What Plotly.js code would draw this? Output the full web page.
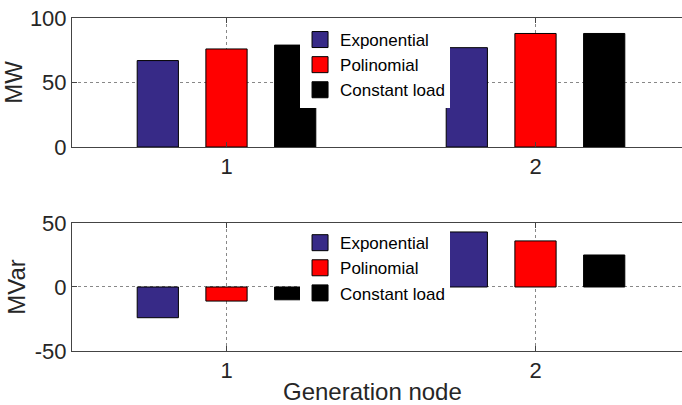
<!DOCTYPE html>
<html>
<head>
<meta charset="utf-8">
<script src="https://cdn.plot.ly/plotly-3.0.1.min.js"></script>
<style>
html,body{margin:0;padding:0;overflow:hidden;background:#fff;}
#chart{width:700px;height:405px;}
</style>
</head>
<body>
<div id="chart"></div>
<script>
// Data
var nodes = [1, 2];
var nodeLabels = ['1', '2'];
var seriesNames = ['Exponential', 'Polinomial', 'Constant load'];
var seriesColors = ['#372A87', '#FF0000', '#000000'];
var activePower = [
  [67, 77],   // Exponential
  [76, 88],   // Polinomial
  [79, 88]    // Constant load
];
var reactivePower = [
  [-24, 43],
  [-11, 36],
  [-10, 25]
];
var pTicks = [0, 50, 100];
var pTickLabels = ['0', '50', '100'];
var qTicks = [-50, 0, 50];
var qTickLabels = ['-50', '0', '50'];
var yTitles = ['MW', 'MVar'];
var xTitle = 'Generation node';

var traces = [];
for (var i = 0; i < seriesNames.length; i++) {
  traces.push({type: 'bar', x: nodes, y: activePower[i], name: seriesNames[i],
    marker: {color: seriesColors[i], line: {color: '#000', width: 1}},
    xaxis: 'x', yaxis: 'y', showlegend: false, hoverinfo: 'none'});
  traces.push({type: 'bar', x: nodes, y: reactivePower[i], name: seriesNames[i],
    marker: {color: seriesColors[i], line: {color: '#000', width: 1}},
    xaxis: 'x2', yaxis: 'y2', showlegend: false, hoverinfo: 'none'});
}
// legend entries
for (var j = 0; j < seriesNames.length; j++) {
  traces.push({type: 'scatter', mode: 'markers', x: [null], y: [null], name: seriesNames[j],
    marker: {symbol: 'square', size: 16, color: seriesColors[j], line: {color: '#000', width: 1}},
    xaxis: 'x', yaxis: 'y', legend: 'legend'});
  traces.push({type: 'scatter', mode: 'markers', x: [null], y: [null], name: seriesNames[j],
    marker: {symbol: 'square', size: 16, color: seriesColors[j], line: {color: '#000', width: 1}},
    xaxis: 'x2', yaxis: 'y2', legend: 'legend2'});
}

var fam = 'Liberation Sans, Arial, sans-serif';
var tickFont = {family: fam, size: 22, color: '#262626'};
var titleFont = {family: fam, size: 24, color: '#262626'};
var legFont = {family: fam, size: 17, color: '#000'};
var axisCommon = {
  showline: true, linecolor: '#444', linewidth: 1, mirror: 'ticks',
  ticks: 'inside', ticklen: 5, tickcolor: '#444',
  showgrid: true, gridcolor: '#888', griddash: 'dot', gridwidth: 1,
  zeroline: false, tickfont: tickFont
};

function ax(extra) { return Object.assign({}, axisCommon, extra); }

var layout = {
  width: 700, height: 405,
  margin: {l: 72, r: 10, t: 18, b: 54},
  paper_bgcolor: '#fff', plot_bgcolor: '#fff',
  font: tickFont,
  barmode: 'group', bargap: 0.333, bargroupgap: 0.4,
  showlegend: true,
  xaxis: ax({domain: [0, 1], range: [0.5, 2.5], tickvals: nodes, ticktext: nodeLabels, anchor: 'y'}),
  yaxis: ax({domain: [0.6126, 1], range: [0, 100], tickvals: pTicks, ticktext: pTickLabels, anchor: 'x',
    title: {text: yTitles[0], font: titleFont, standoff: 2}}),
  xaxis2: ax({domain: [0, 1], range: [0.5, 2.5], tickvals: nodes, ticktext: nodeLabels, anchor: 'y2'}),
  yaxis2: ax({domain: [0, 0.3844], range: [-50, 50], tickvals: qTicks, ticktext: qTickLabels, anchor: 'x2',
    title: {text: yTitles[1], font: titleFont, standoff: 2}}),
  annotations: [{text: xTitle, xref: 'paper', yref: 'paper', x: 0.487, y: 0,
    xanchor: 'center', yanchor: 'top', yshift: -25, showarrow: false, font: titleFont}],
  legend: {x: 0.369, y: 0.988, xanchor: 'left', yanchor: 'top', bgcolor: '#fff', borderwidth: 0,
    font: legFont, itemwidth: 30},
  legend2: {x: 0.369, y: 0.378, xanchor: 'left', yanchor: 'top', bgcolor: '#fff', borderwidth: 0,
    font: legFont, itemwidth: 30}
};

Plotly.newPlot('chart', traces, layout, {displayModeBar: false, staticPlot: true});
</script>
</body>
</html>
